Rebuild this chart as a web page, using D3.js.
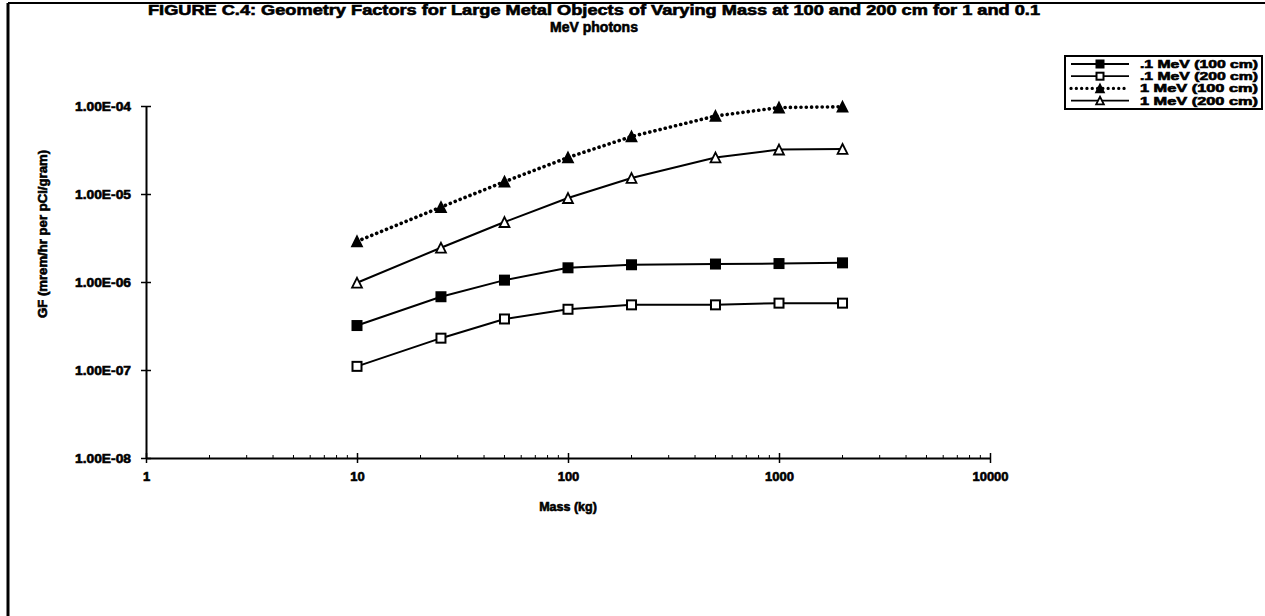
<!DOCTYPE html>
<html>
<head>
<meta charset="utf-8">
<script src="https://cdn.jsdelivr.net/npm/d3@7"></script>
<style>
  body { margin: 0; background: #fff; }
  svg { display: block; font-family: "Liberation Sans", Arial, sans-serif; font-weight: bold; }
  text.heavy { stroke: #000; stroke-width: 0.6px; }
</style>
</head>
<body>
<svg id="chart" width="1265" height="616"></svg>
<script>
// masses (kg) used for every series
const masses = [10, 25, 50, 100, 200, 500, 1000, 2000]

// GF values
const gf01_100 = [3.2e-7, 6.8e-7, 1.05e-6, 1.45e-6, 1.57e-6, 1.6e-6, 1.62e-6, 1.65e-6]
const gf01_200 = [1.1e-7, 2.3e-7, 3.8e-7, 4.9e-7, 5.5e-7, 5.5e-7, 5.75e-7, 5.75e-7]
const gf1_100 = [2.9e-6, 7.1e-6, 1.38e-5, 2.6e-5, 4.5e-5, 7.7e-5, 9.6e-5, 9.8e-5]
const gf1_200 = [9.8e-7, 2.45e-6, 4.8e-6, 9.0e-6, 1.52e-5, 2.6e-5, 3.2e-5, 3.25e-5]

const seriesNames = [".1 MeV (100 cm)", ".1 MeV (200 cm)", "1 MeV (100 cm)", "1 MeV (200 cm)"]
const xTicks = [1, 10, 100, 1000, 10000]
const yTicks = [1e-4, 1e-5, 1e-6, 1e-7, 1e-8]
const yTickLabels = ["1.00E-04", "1.00E-05", "1.00E-06", "1.00E-07", "1.00E-08"]

let series = [
	{name: seriesNames[0], values: gf01_100, marker: "square", fill: "#000", dash: null},
	{name: seriesNames[1], values: gf01_200, marker: "square", fill: "#fff", dash: null},
	{name: seriesNames[2], values: gf1_100, marker: "triangle", fill: "#000", dash: "0.1,5.2"},
	{name: seriesNames[3], values: gf1_200, marker: "triangle", fill: "#fff", dash: null}
]

let svg = d3.select("#chart")

// frame edges of the scanned page
svg.append("line").attr("x1", 8).attr("x2", 8).attr("y1", 3).attr("y2", 616)
	.attr("stroke", "#000").attr("stroke-width", 3)
svg.append("line").attr("x1", 8).attr("x2", 1265).attr("y1", 3).attr("y2", 3)
	.attr("stroke", "#000").attr("stroke-width", 2)

let x = d3.scaleLog().domain([1, 10000]).range([146, 990])
let y = d3.scaleLog().domain([1e-8, 1e-4]).range([458, 106])

// title
svg.append("text")
	.attr("class", "heavy")
	.attr("x", 594).attr("y", 15)
	.attr("text-anchor", "middle")
	.attr("font-size", 14)
	.attr("textLength", 892).attr("lengthAdjust", "spacingAndGlyphs")
	.text("FIGURE C.4:  Geometry Factors for Large Metal Objects of Varying Mass at 100 and 200 cm for 1 and 0.1")
svg.append("text")
	.attr("class", "heavy")
	.attr("x", 594).attr("y", 32)
	.attr("text-anchor", "middle")
	.attr("font-size", 14)
	.text("MeV photons")

// axes
let yaxis = d3.axisLeft(y).tickValues(yTicks).tickSize(0).tickPadding(15)
	.tickFormat((d, i) => yTickLabels[i])
let gy = svg.append("g").attr("transform", "translate(146,0)").call(yaxis)
gy.select(".domain").attr("stroke-width", 2)
gy.selectAll(".tick text").attr("class", "heavy").attr("font-size", 13).attr("font-weight", "bold")
	.attr("font-family", "Liberation Sans, Arial").attr("textLength", 56).attr("lengthAdjust", "spacingAndGlyphs")
gy.selectAll(".tick").append("line").attr("x1", -5).attr("x2", 5).attr("stroke", "#000").attr("stroke-width", 1.5)

let minor = []
for (let p = 1; p < 10000; p *= 10) for (let k = 2; k <= 9; k++) minor.push(p * k)

let xaxis = d3.axisBottom(x).tickValues(xTicks).tickSize(0).tickPadding(14)
	.tickFormat(d3.format("d"))
let gx = svg.append("g").attr("transform", "translate(0,458)").call(xaxis)
gx.select(".domain").attr("stroke-width", 2)
gx.selectAll(".tick text").attr("class", "heavy").attr("font-size", 13).attr("font-weight", "bold")
	.attr("font-family", "Liberation Sans, Arial")
gx.selectAll(".tick").append("line").attr("y1", -5).attr("y2", 5).attr("stroke", "#000").attr("stroke-width", 1.5)
gx.selectAll("line.minor").data(minor).enter().append("line")
	.attr("class", "minor")
	.attr("x1", d => x(d)).attr("x2", d => x(d))
	.attr("y1", -3).attr("y2", 0)
	.attr("stroke", "#000").attr("stroke-width", 1)

// axis titles
svg.append("text")
	.attr("class", "heavy")
	.attr("x", 568).attr("y", 511)
	.attr("text-anchor", "middle").attr("font-size", 12.5)
	.text("Mass (kg)")
svg.append("text")
	.attr("class", "heavy")
	.attr("transform", "translate(47,234) rotate(-90)")
	.attr("text-anchor", "middle").attr("font-size", 12.5)
	.attr("textLength", 168).attr("lengthAdjust", "spacingAndGlyphs")
	.text("GF (mrem/hr per pCi/gram)")

// marker drawing
function marker(g, type, fill, size){
	if (type == "square"){
		g.append("rect")
			.attr("x", -size/2).attr("y", -size/2)
			.attr("width", size).attr("height", size)
			.attr("fill", fill).attr("stroke", "#000").attr("stroke-width", 2)
	} else {
		let s = size * 1.1
		g.append("path")
			.attr("d", `M0,${-s/2}L${s/2},${s/2}L${-s/2},${s/2}Z`)
			.attr("fill", fill).attr("stroke", "#000").attr("stroke-width", 1.8)
	}
}

let line = d3.line().x(d => x(d[0])).y(d => y(d[1]))

series.forEach(s => {
	let pts = masses.map((m, i) => [m, s.values[i]])
	let path = svg.append("path")
		.attr("d", line(pts))
		.attr("fill", "none")
		.attr("stroke", "#000")
	if (s.dash){
		path.attr("stroke-width", 3.6).attr("stroke-dasharray", s.dash).attr("stroke-linecap", "round")
	} else {
		path.attr("stroke-width", 2)
	}
	pts.forEach(p => {
		let g = svg.append("g").attr("transform", `translate(${x(p[0])},${y(p[1])})`)
		marker(g, s.marker, s.fill, 9)
	})
})

// legend
let legend = svg.append("g").attr("transform", "translate(1065,56)")
legend.append("rect")
	.attr("x", 0).attr("y", 0).attr("width", 197).attr("height", 53)
	.attr("fill", "#fff").attr("stroke", "#000").attr("stroke-width", 2)

series.forEach((s, i) => {
	let ly = 8 + i * 12.2
	let row = legend.append("g").attr("transform", `translate(0,${ly})`)
	let l = row.append("line")
		.attr("x1", 6).attr("x2", 64).attr("y1", 0).attr("y2", 0)
		.attr("stroke", "#000")
	if (s.dash){
		l.attr("stroke-width", 3.2).attr("stroke-dasharray", s.dash).attr("stroke-linecap", "round")
	} else {
		l.attr("stroke-width", 1.8)
	}
	let g = row.append("g").attr("transform", "translate(35,0)")
	marker(g, s.marker, s.fill, 7)
	row.append("text")
		.attr("class", "heavy")
		.attr("x", 193).attr("y", 4)
		.attr("text-anchor", "end")
		.attr("font-size", 10.5)
		.attr("textLength", 118).attr("lengthAdjust", "spacingAndGlyphs")
		.text(s.name)
})
</script>
</body>
</html>
